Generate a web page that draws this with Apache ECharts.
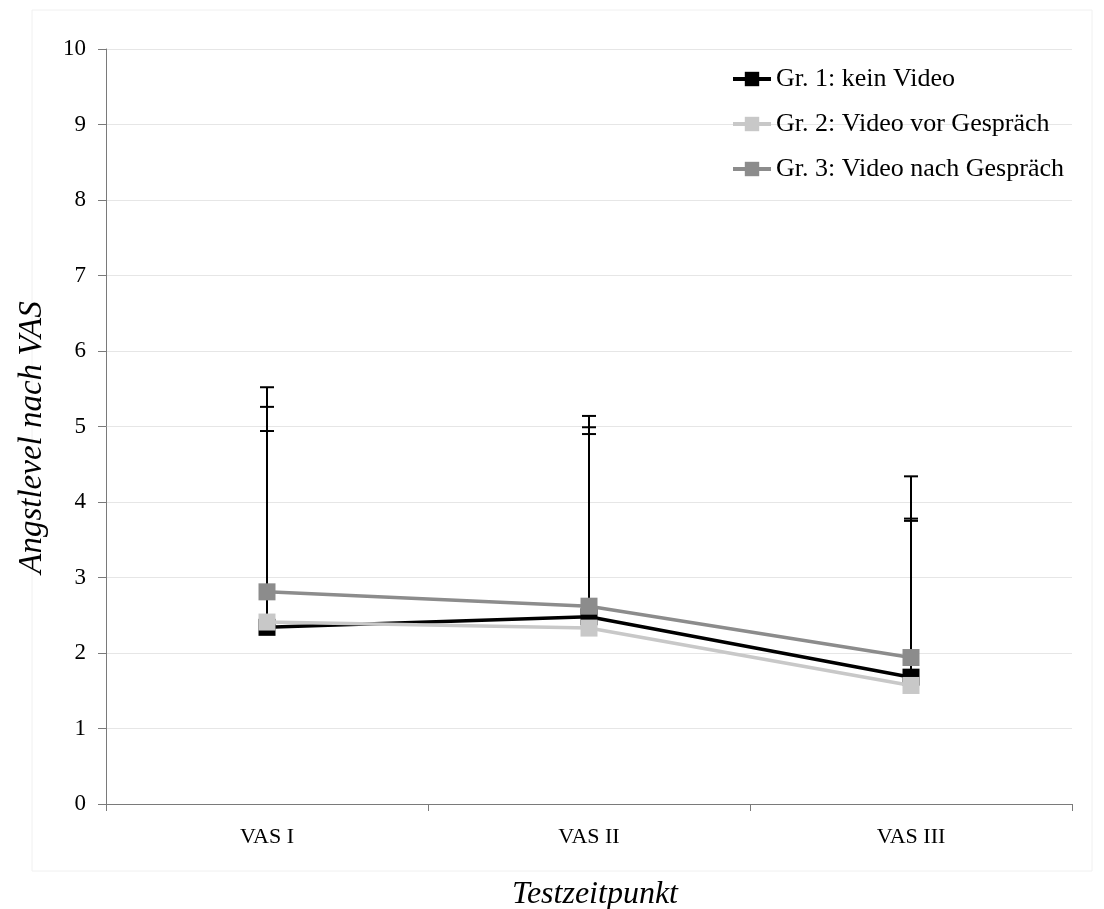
<!DOCTYPE html>
<html>
<head>
<meta charset="utf-8">
<script src="https://cdn.jsdelivr.net/npm/echarts@6/dist/echarts.min.js"></script>
<style>html,body{margin:0;padding:0;background:#fff;}#c{width:1104px;height:909px;}</style>
</head>
<body>
<div id="c"></div>
<script>
var categories = ['VAS I', 'VAS II', 'VAS III'];
var seriesNames = ['Gr. 1: kein Video', 'Gr. 2: Video vor Gespräch', 'Gr. 3: Video nach Gespräch'];
var gr1 = [2.34, 2.48, 1.68];
var gr2 = [2.41, 2.33, 1.57];
var gr3 = [2.81, 2.62, 1.94];
var gr1Upper = [5.26, 5.14, 3.78];
var gr2Upper = [4.94, 4.90, 3.75];
var gr3Upper = [5.52, 4.99, 4.34];
var yTicks = [0, 1, 2, 3, 4, 5, 6, 7, 8, 9, 10];

var colors = ['#000000', '#c8c8c8', '#8c8c8c'];
var serif = '"Liberation Serif", "DejaVu Serif", serif';

function errData(vals, ups) {
  return vals.map(function (v, i) { return [i, v, ups[i]]; });
}
function renderErr(params, api) {
  var x = api.value(0);
  var lo = api.coord([x, api.value(1)]);
  var hi = api.coord([x, api.value(2)]);
  var hw = 7;
  var style = { stroke: '#000', lineWidth: 2 };
  return {
    type: 'group',
    children: [
      { type: 'line', shape: { x1: lo[0], y1: lo[1], x2: hi[0], y2: hi[1] }, style: style },
      { type: 'line', shape: { x1: hi[0] - hw, y1: hi[1], x2: hi[0] + hw, y2: hi[1] }, style: style }
    ]
  };
}

var lineData = [gr1, gr2, gr3];
var upData = [gr1Upper, gr2Upper, gr3Upper];
var series = [];
for (var k = 0; k < 3; k++) {
  series.push({
    type: 'custom',
    renderItem: renderErr,
    data: errData(lineData[k], upData[k]),
    encode: { x: 0, y: [1, 2] },
    z: 1,
    silent: true
  });
}
for (var k2 = 0; k2 < 3; k2++) {
  series.push({
    name: seriesNames[k2],
    type: 'line',
    data: lineData[k2],
    symbol: 'rect',
    symbolSize: 17,
    lineStyle: { color: colors[k2], width: 3.5 },
    itemStyle: { color: colors[k2] },
    z: 3 + k2,
    animation: false
  });
}

var chart = echarts.init(document.getElementById('c'));
chart.setOption({
  animation: false,
  backgroundColor: '#fff',
  graphic: [{
    type: 'rect',
    shape: { x: 32, y: 10, width: 1060, height: 861 },
    style: { fill: 'none', stroke: '#f0f0f0', lineWidth: 1 },
    z: 0
  }],
  grid: { left: 106, right: 32, top: 49, bottom: 105, containLabel: false, outerBoundsMode: 'none' },
  legend: {
    orient: 'vertical',
    left: 726,
    top: 61,
    itemWidth: 38,
    itemHeight: 18,
    itemGap: 19,
    lineStyle: { width: 4 },
    textStyle: { fontFamily: serif, fontSize: 26, color: '#000' },
    data: seriesNames
  },
  xAxis: {
    type: 'category',
    data: categories,
    boundaryGap: true,
    name: 'Testzeitpunkt',
    nameLocation: 'middle',
    nameGap: 75,
    nameTextStyle: { fontFamily: serif, fontSize: 32, fontStyle: 'italic', color: '#000', padding: [0, 0, 0, 12] },
    axisLine: { lineStyle: { color: '#7a7a7a', width: 1 } },
    axisTick: { show: true, length: 7, lineStyle: { color: '#7a7a7a' } },
    axisLabel: { fontFamily: serif, fontSize: 22, color: '#000', margin: 22 }
  },
  yAxis: {
    type: 'value',
    min: yTicks[0],
    max: yTicks[yTicks.length - 1],
    interval: 1,
    name: 'Angstlevel nach VAS',
    nameLocation: 'middle',
    nameGap: 57,
    nameTextStyle: { fontFamily: serif, fontSize: 33, fontStyle: 'italic', color: '#000', padding: [0, 22, 0, 0] },
    axisLine: { show: true, lineStyle: { color: '#7a7a7a', width: 1 } },
    axisTick: { show: true, length: 8, lineStyle: { color: '#7a7a7a' } },
    axisLabel: { fontFamily: serif, fontSize: 23, color: '#000', margin: 20 },
    splitLine: { lineStyle: { color: '#e6e6e6', width: 1 } }
  },
  series: series
});
</script>
</body>
</html>
